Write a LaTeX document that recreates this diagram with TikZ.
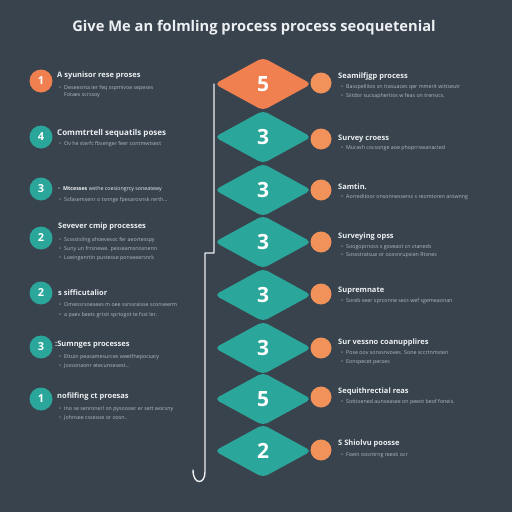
\documentclass[tikz,border=0pt]{standalone}
\usepackage{fontspec}
\setmainfont{Open Sans}
\usetikzlibrary{shapes.geometric}
\definecolor{bg}{RGB}{57,67,77}
\definecolor{teal}{RGB}{42,166,154}
\definecolor{orng}{RGB}{240,128,80}
\definecolor{dotc}{RGB}{240,146,90}
\definecolor{txt}{RGB}{236,240,242}
\definecolor{sub}{RGB}{178,188,196}
\tikzset{
  dia/.style={diamond, fill=teal, minimum width=97pt, minimum height=53pt, inner sep=0pt, rounded corners=5pt, text=white, font=\bfseries\fontsize{21}{21}\selectfont},
  dot/.style={circle, fill=dotc, minimum size=21pt, inner sep=0pt},
  num/.style={circle, fill=teal, minimum size=23pt, inner sep=0pt, text=white, font=\bfseries\fontsize{11}{11}\selectfont},
  head/.style={anchor=west, inner sep=0pt, text=txt, font=\bfseries\fontsize{7.5}{8}\selectfont},
  bul/.style={anchor=west, inner sep=0pt, text=sub, font=\fontsize{5.3}{6}\selectfont},
  track/.style={draw=white!92!bg, line width=1.4pt, line cap=round, line join=round}
}
\newcommand{\bb}{\textbullet\hspace{3pt}}
\begin{document}
\begin{tikzpicture}[x=1pt,y=-1pt]
\fill[bg] (0,0) rectangle (512,512);
\useasboundingbox (0,0) rectangle (512,512);
% title
\node[inner sep=0pt, text=txt, font=\bfseries\fontsize{14.7}{16}\selectfont] (title) at (254,28) {Give Me an folmling process process seoquetenial};

% track line
\coordinate (t0) at (214,84);
\coordinate (t1) at (214,253);
\coordinate (t2) at (205,253);
\coordinate (t3) at (205,472);
\coordinate (t4) at (193,470);
\draw[track] (t0) -- (t1) -- (t2) -- (t3) .. controls (205,485) and (193,485) .. (t4);

% diamonds
\node[dia, fill=orng] (d1) at (263,84) {5};
\node[dia] (d2) at (263,137) {3};
\node[dia] (d3) at (263,190) {3};
\node[dia] (d4) at (263,242) {3};
\node[dia] (d5) at (263,295) {3};
\node[dia] (d6) at (263,348) {3};
\node[dia] (d7) at (263,399) {5};
\node[dia] (d8) at (263,451) {2};

% dots
\node[dot] (o1) at (321,83) {};
\node[dot] (o2) at (321,139) {};
\node[dot] (o3) at (321,190) {};
\node[dot] (o4) at (321,242) {};
\node[dot] (o5) at (321,294) {};
\node[dot] (o6) at (321,348) {};
\node[dot] (o7) at (321,397) {};
\node[dot] (o8) at (321,450) {};

% right texts
\node[head] (r1) at (338,77) {Seamilfjgp process};
\node[bul] (r1a) at (341,87) {\bb Basspellitos sn trasuaces qer mmerit wittseutr};
\node[bul] (r1b) at (341,96) {\bb Siitdor sucsaphertios w feas on trensics.};
\node[head] (r2) at (338,139) {Survey croess};
\node[bul] (r2a) at (341,148) {\bb Murash cocsonge aoe phoprrswanacted};
\node[head] (r3) at (338,187) {Samtin.};
\node[bul] (r3a) at (341,197) {\bb Aorreditoor onsonnesserss s reomtoren arownng};
\node[head] (r4) at (338,237) {Surveying opss};
\node[bul] (r4a) at (341,247) {\bb Soogoprnoss s goveaot cn vtaneds};
\node[bul] (r4b) at (341,255) {\bb Sossstratsue or oossnrupsien Rtsnes};
\node[head] (r5) at (338,291) {Supremnate};
\node[bul] (r5a) at (341,301) {\bb Soreb seer sprconne secs wef sgemeaonan};
\node[head] (r6) at (338,343) {Sur vessno coanupplires};
\node[bul] (r6a) at (341,353) {\bb Pose oov sonssnvoves. Sone sccrtnmsten};
\node[bul] (r6b) at (341,362) {\bb Eonspecet pecses};
\node[head] (r7) at (338,392) {Sequithrectial reas};
\node[bul] (r7a) at (341,402) {\bb Sottioened aunseasee on peeot beof foneis.};
\node[head] (r8) at (338,444) {S Shiolvu poosse};
\node[bul] (r8a) at (341,455) {\bb Foein oosntrng reesti ocr};

% left circles
\node[num, fill=orng] (n1) at (41,81) {1};
\node[num] (n2) at (41,137) {4};
\node[num] (n3) at (41,189) {3};
\node[num] (n4) at (41,238) {2};
\node[num] (n5) at (41,293) {2};
\node[num] (n6) at (41,347) {3};
\node[num] (n7) at (41,399) {1};

% left texts
\node[head] (l1) at (57,76) {A syunisor rese proses};
\node[bul] (l1a) at (59,88) {\bb Deseesnta Ier feq sspmivoe sepeses};
\node[bul] (l1b) at (64,95) {Fotaes scrssoy};
\node[head, font=\bfseries\fontsize{8}{9}\selectfont] (l2) at (57,133) {Commtrtell sequatils poses};
\node[bul] (l2a) at (59,144) {\bb Ov he sterfc fbsenger feer contmwtsect};
\node[bul, text=txt] (l3) at (58,189) {\bb \textbf{Mtcesses} wsthe coesiongrcy soneatewy};
\node[bul] (l3a) at (59,200) {\bb Ssfasemsenr o tsnnge fpesarosnsk rerth...};
\node[head] (l4) at (58,227) {Sevever cmip processes};
\node[bul] (l4a) at (59,240) {\bb Scssstsling ahoevesoc fer aeortesspy};
\node[bul] (l4b) at (59,249) {\bb Suny un frrsnewe. pesseamsnosnenn};
\node[bul] (l4c) at (59,258) {\bb Loeingenrtin pustesse ponseeersnrk};
\node[head] (l5) at (58,293) {s sifficutalior};
\node[bul] (l5a) at (59,305) {\bb Omeosrsoesees m oee ssrssraisse sconseerm};
\node[bul] (l5b) at (59,315) {\bb a paev beets grtsit sprtogot te fsst ler.};
\node[head] (l6) at (55,345) {:Sumnges processes};
\node[bul] (l6a) at (59,357) {\bb Ettuin peasamesurces weetfnepocsary};
\node[bul] (l6b) at (59,366) {\bb Jossonaonr etecunsesest...};
\node[head] (l7) at (57,397) {nofilfing ct proesas};
\node[bul] (l7a) at (59,409) {\bb Ino se senronerl on pysoooer er sett wocsny};
\node[bul] (l7b) at (59,418) {\bb Johnsee cssesoe or oosn..};
\end{tikzpicture}
\end{document}
